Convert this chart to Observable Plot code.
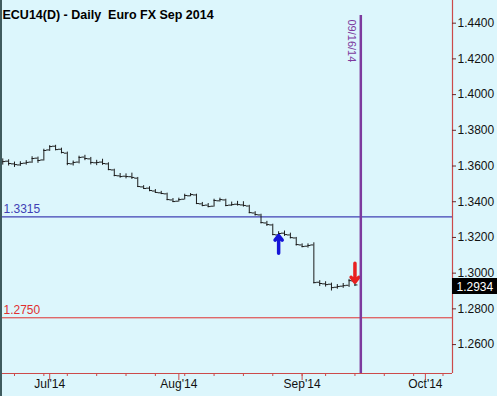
<!DOCTYPE html>
<html><head><meta charset="utf-8">
<script src="https://cdn.jsdelivr.net/npm/d3@7"></script>
<script src="https://cdn.jsdelivr.net/npm/@observablehq/plot@0.6"></script>
<style>
html,body{margin:0;padding:0;background:#dcf6fc;}
#wrap{position:relative;width:497px;height:396px;overflow:hidden;}
#edge{position:absolute;left:0;top:0;width:2px;height:396px;background:#3f5b5e;}
</style></head><body><div id="wrap"></div>
<script>
const title = "ECU14(D) - Daily\u00a0 Euro FX Sep 2014";
const firstIdx = -2;
const dates = ["2014-06-19","2014-06-20","2014-06-23","2014-06-24","2014-06-25","2014-06-26","2014-06-27","2014-06-30",
"2014-07-01","2014-07-02","2014-07-03","2014-07-07","2014-07-08","2014-07-09","2014-07-10","2014-07-11",
"2014-07-14","2014-07-15","2014-07-16","2014-07-17","2014-07-18","2014-07-21","2014-07-22","2014-07-23","2014-07-24","2014-07-25",
"2014-07-28","2014-07-29","2014-07-30","2014-07-31","2014-08-01","2014-08-04","2014-08-05","2014-08-06","2014-08-07","2014-08-08",
"2014-08-11","2014-08-12","2014-08-13","2014-08-14","2014-08-15","2014-08-18","2014-08-19","2014-08-20","2014-08-21","2014-08-22",
"2014-08-25","2014-08-26","2014-08-27","2014-08-28","2014-08-29","2014-09-02","2014-09-03","2014-09-04","2014-09-05",
"2014-09-08","2014-09-09","2014-09-10","2014-09-11","2014-09-12","2014-09-15"];
const open = [1.3618,1.3627,1.3612,1.3606,1.3616,1.3622,1.3644,1.3634,1.3690,1.3711,1.3694,1.3672,1.3612,1.3622,1.3650,1.3640,
1.3618,1.3622,1.3612,1.3578,1.3545,1.3543,1.3540,1.3532,1.3483,1.3476,1.3460,1.3450,1.3444,1.3410,1.3403,1.3414,1.3433,1.3438,
1.3388,1.3381,1.3375,1.3405,1.3410,1.3381,1.3386,1.3382,1.3376,1.3337,1.3326,1.3281,1.3270,1.3214,1.3224,1.3214,1.3197,1.3158,
1.3151,1.3158,1.2949,1.2940,1.2938,1.2921,1.2927,1.2932,1.2956];
const high = [1.3640,1.3635,1.3622,1.3624,1.3630,1.3652,1.3650,1.3694,1.3714,1.3716,1.3700,1.3678,1.3628,1.3655,1.3660,1.3648,
1.3632,1.3638,1.3618,1.3582,1.3558,1.3556,1.3560,1.3536,1.3490,1.3484,1.3468,1.3458,1.3448,1.3418,1.3420,1.3442,1.3446,1.3442,
1.3396,1.3390,1.3414,1.3420,1.3414,1.3398,1.3402,1.3400,1.3380,1.3344,1.3330,1.3290,1.3274,1.3232,1.3236,1.3224,1.3200,1.3164,
1.3164,1.3170,1.2958,1.2952,1.2944,1.2936,1.2942,1.2965,1.2962];
const low = [1.3605,1.3600,1.3592,1.3598,1.3605,1.3615,1.3615,1.3628,1.3682,1.3685,1.3668,1.3602,1.3600,1.3612,1.3630,1.3606,
1.3602,1.3604,1.3574,1.3540,1.3532,1.3528,1.3525,1.3480,1.3470,1.3456,1.3447,1.3440,1.3406,1.3395,1.3398,1.3410,1.3428,1.3384,
1.3372,1.3366,1.3370,1.3398,1.3372,1.3374,1.3376,1.3370,1.3333,1.3320,1.3276,1.3262,1.3210,1.3212,1.3206,1.3192,1.3152,1.3142,
1.3140,1.2940,1.2925,1.2922,1.2900,1.2910,1.2915,1.2920,1.2925];
const close = [1.3625,1.3614,1.3608,1.3614,1.3620,1.3642,1.3631,1.3687,1.3709,1.3692,1.3676,1.3614,1.3620,1.3648,1.3642,1.3620,
1.3620,1.3614,1.3580,1.3547,1.3541,1.3541,1.3536,1.3485,1.3474,1.3463,1.3452,1.3446,1.3412,1.3401,1.3412,1.3435,1.3440,1.3390,
1.3379,1.3373,1.3407,1.3412,1.3379,1.3384,1.3384,1.3379,1.3339,1.3328,1.3283,1.3272,1.3216,1.3222,1.3216,1.3199,1.3160,1.3149,
1.3155,1.2947,1.2942,1.2936,1.2919,1.2925,1.2930,1.2958,1.2934];
const yTicks = [1.26,1.28,1.30,1.32,1.34,1.36,1.38,1.40,1.42,1.44];
const weekTickIdx = [0,5,9,14,19,24,29,34,39,44,49,53,58,63,68,73];
const monthTickIdx = [6,28,49,70];
const monthLabels = ["Jul'14","Aug'14","Sep'14","Oct'14"];
const resistance = 1.3315;
const support = 1.2750;
const lastPrice = 1.2934;
const eventIdx = 59;
const eventLabel = "09/16/14";
const eventTop = 1.4443;
const buySignal = [{i: 45, from: 1.3112, to: 1.3211}];
const sellSignal = [{i: 58, from: 1.3055, to: 1.2949}];
const xDomain = [-2.385, 74.62];
const yDomain = [1.2438, 1.4527];

const data = dates.map((d, k) => ({date: d, i: k + firstIdx, o: open[k], h: high[k], l: low[k], c: close[k]}));
const bar = "#1c1c1c", axisRed = "#cc4a4a", blue = "#4040b4", red = "#e03030", purple = "#7d3a9e";
const xMax = xDomain[1], yMin = yDomain[0];

const chart = Plot.plot({
  width: 497, height: 396,
  marginTop: 0, marginRight: 45, marginBottom: 23, marginLeft: 0,
  style: {background: "#dcf6fc", fontFamily: "'Liberation Sans', Arial, sans-serif", fontSize: "12px", color: "black", overflow: "visible"},
  x: {domain: xDomain, axis: null},
  y: {domain: yDomain, axis: null},
  marks: [
    Plot.ruleY([resistance], {y: d => d, stroke: blue, strokeWidth: 1.2}),
    Plot.text([resistance], {y: d => d, text: d => d.toFixed(4), frameAnchor: "left", textAnchor: "start", dx: 3, dy: -8, fill: blue, fontSize: 12}),
    Plot.ruleY([support], {y: d => d, stroke: red, strokeWidth: 1}),
    Plot.text([support], {y: d => d, text: d => d.toFixed(4), frameAnchor: "left", textAnchor: "start", dx: 3, dy: -8, fill: red, fontSize: 12}),
    Plot.ruleX(data, {x: "i", y1: "l", y2: "h", stroke: bar, strokeWidth: 1}),
    Plot.ruleY(data, {y: "o", x1: "i", x2: "i", insetLeft: -3, stroke: bar, strokeWidth: 1}),
    Plot.ruleY(data, {y: "c", x1: "i", x2: "i", insetRight: -3, stroke: bar, strokeWidth: 1}),
    Plot.arrow(buySignal, {x1: "i", x2: "i", y1: "from", y2: "to", stroke: "#1515d8", strokeWidth: 3.5, headLength: 9, headAngle: 75}),
    Plot.arrow(sellSignal, {x1: "i", x2: "i", y1: "from", y2: "to", stroke: "#e82020", strokeWidth: 3.5, headLength: 9, headAngle: 75}),
    Plot.ruleX([eventIdx], {x: d => d, y1: eventTop, y2: yMin, stroke: purple, strokeWidth: 2.5}),
    Plot.text([eventIdx], {x: d => d, y: eventTop, text: () => eventLabel, rotate: 90, textAnchor: "start", dx: -9, dy: 4, fill: purple, fontSize: 11}),
    Plot.ruleY([yMin], {y: d => d, stroke: axisRed, strokeWidth: 1.2}),
    Plot.ruleX([xMax], {x: d => d, stroke: axisRed, strokeWidth: 1.2}),
    Plot.ruleY(yTicks, {y: d => d, x1: xMax, x2: xMax, insetRight: -4, stroke: "#6a2a2a", strokeWidth: 1}),
    Plot.text(yTicks, {y: d => d, text: d => d.toFixed(4), frameAnchor: "right", textAnchor: "start", dx: 5, fill: "#111", fontSize: 12}),
    Plot.ruleY([lastPrice], {y: d => d, x1: xMax, x2: xMax, insetRight: -46, dy: 1, stroke: "black", strokeWidth: 16}),
    Plot.text([lastPrice], {y: d => d, text: d => d.toFixed(4), frameAnchor: "right", textAnchor: "start", dx: 4, dy: 2, fill: "white", fontSize: 12}),
    Plot.ruleX(weekTickIdx, {x: d => d, y1: yMin, y2: yMin, insetBottom: -3, stroke: axisRed, strokeWidth: 1}),
    Plot.ruleX(monthTickIdx, {x: d => d, y1: yMin, y2: yMin, insetBottom: -7, stroke: axisRed, strokeWidth: 1}),
    Plot.text(monthTickIdx, {x: d => d, text: (d, k) => monthLabels[k], frameAnchor: "bottom", dy: 14, fill: "#111", fontSize: 12}),
    Plot.text([title], {text: d => d, frameAnchor: "top-left", textAnchor: "start", dx: 2, dy: 10, fill: "#000", fontWeight: "bold", fontSize: 12.5})
  ]
});
const wrap = document.getElementById("wrap");
wrap.appendChild(chart);
const edge = document.createElement("div"); edge.id = "edge"; wrap.appendChild(edge);
</script>
</body></html>
